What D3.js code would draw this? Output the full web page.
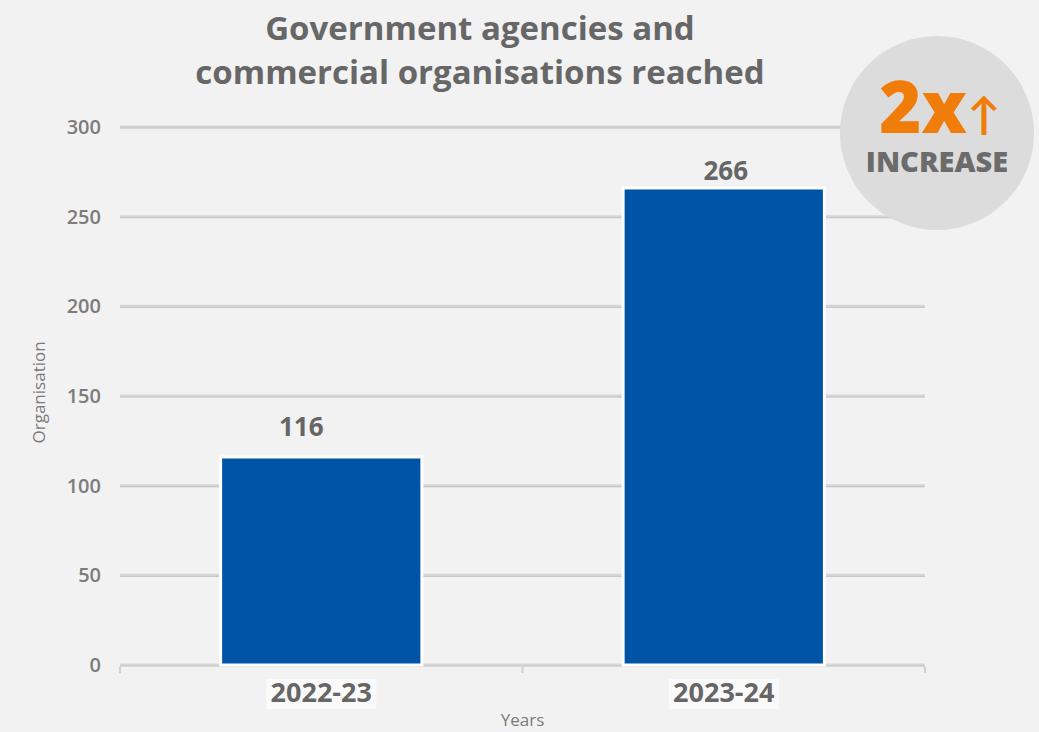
<!DOCTYPE html>
<html>
<head>
<meta charset="utf-8">
<script src="https://cdn.jsdelivr.net/npm/d3@7"></script>
<style>
  body { margin: 0; background: #f2f2f2; }
  svg { display: block; font-family: "Open Sans", Lato, sans-serif; }
</style>
</head>
<body>
<svg id="chart" width="1039" height="732"></svg>
<script>
const years = ["2022-23", "2023-24"];
const organisations = [116, 266];
const yTicks = [0, 50, 100, 150, 200, 250, 300];
const titleLines = ["Government agencies and", "commercial organisations reached"];

const svg = d3.select("#chart");
const margin = { top: 127, right: 114, bottom: 67, left: 120 };
const width = 1039 - margin.left - margin.right;
const height = 732 - margin.top - margin.bottom;

svg.append("rect").attr("width", 1039).attr("height", 732).attr("fill", "#f2f2f2");

const x = d3.scaleBand()
        .domain(years)
        .range([0, width])
        .paddingInner(0)
        .paddingOuter(0);

const y = d3.scaleLinear()
        .domain([0, 300])
        .range([height, 0]);

const g = svg.append("g")
        .attr("transform", "translate(" + margin.left + "," + margin.top + ")");

// gridlines (soft double line)
g.selectAll("line.grid")
        .data(yTicks)
        .enter().append("line")
        .attr("class", "grid")
        .attr("x1", 0)
        .attr("x2", width)
        .attr("y1", d => y(d))
        .attr("y2", d => y(d))
        .attr("stroke", "#d6d6d6")
        .attr("stroke-width", 3);

g.selectAll("line.grid2")
        .data(yTicks)
        .enter().append("line")
        .attr("x1", 0)
        .attr("x2", width)
        .attr("y1", d => y(d) + 1)
        .attr("y2", d => y(d) + 1)
        .attr("stroke", "#c6c6c6")
        .attr("stroke-width", 1);

// y tick labels
g.selectAll("text.ytick")
        .data(yTicks)
        .enter().append("text")
        .attr("x", -19)
        .attr("y", d => y(d))
        .attr("dy", "0.35em")
        .attr("text-anchor", "end")
        .attr("font-size", 20)
        .attr("font-weight", 600)
        .attr("fill", "#7c7c7c")
        .text(d => d);

// bottom axis ticks
const xAxis = g.append("g")
        .attr("transform", "translate(0," + (height + 2) + ")");
xAxis.selectAll("line")
        .data([0, width / 2, width])
        .enter().append("line")
        .attr("x1", d => d).attr("x2", d => d)
        .attr("y1", 0).attr("y2", 6)
        .attr("stroke", "#cfcfcf")
        .attr("stroke-width", 2);

// bars
const barW = x.bandwidth() * 0.5;
g.selectAll("rect.bar")
        .data(organisations)
        .enter().append("rect")
        .attr("class", "bar")
        .attr("x", (d, i) => x(years[i]) + x.bandwidth() / 2 - barW / 2)
        .attr("y", d => y(d))
        .attr("width", barW)
        .attr("height", d => height - y(d))
        .attr("fill", "#0054a6")
        .attr("stroke", "#ffffff")
        .attr("stroke-width", 3);

// value labels
g.selectAll("text.val")
        .data(organisations)
        .enter().append("text")
        .attr("x", (d, i) => x(years[i]) + x.bandwidth() / 2 + (i === 0 ? -20 : 2))
        .attr("y", (d, i) => y(d) - (i === 0 ? 21 : 8))
        .attr("text-anchor", "middle")
        .attr("font-size", 26)
        .attr("font-weight", 700)
        .attr("fill", "#666666")
        .text(d => d);

// x labels
const xl = g.selectAll("g.xl")
        .data(years)
        .enter().append("g")
        .attr("transform", d => "translate(" + (x(d) + x.bandwidth() / 2) + "," + (height + 37) + ")");
xl.append("rect")
        .attr("x", -55).attr("y", -23)
        .attr("width", 110).attr("height", 30)
        .attr("fill", "#ffffff")
        .attr("opacity", 0.6);
xl.append("text")
        .attr("text-anchor", "middle")
        .attr("font-size", 27)
        .attr("font-weight", 700)
        .attr("fill", "#666666")
        .text(d => d);

// axis titles
svg.append("text")
        .attr("x", margin.left + width / 2)
        .attr("y", 726)
        .attr("text-anchor", "middle")
        .attr("font-size", 17)
        .attr("fill", "#7a7a7a")
        .text("Years");

svg.append("text")
        .attr("transform", "translate(45," + (margin.top + y(152)) + ") rotate(-90)")
        .attr("text-anchor", "middle")
        .attr("font-size", 17)
        .attr("fill", "#7a7a7a")
        .text("Organisation");

// title
svg.selectAll("text.title")
        .data(titleLines)
        .enter().append("text")
        .attr("x", 480)
        .attr("y", (d, i) => 40 + i * 44)
        .attr("text-anchor", "middle")
        .attr("font-size", 33)
        .attr("font-weight", 700)
        .attr("fill", "#676767")
        .text(d => d);

// badge
const badge = svg.append("g").attr("transform", "translate(937,133)");
badge.append("circle").attr("r", 97).attr("fill", "#dcdcdc");
badge.append("text")
        .attr("x", -14).attr("y", 0)
        .attr("text-anchor", "middle")
        .attr("font-size", 72)
        .attr("font-weight", 800)
        .attr("fill", "#f07d0a")
        .text("2x");
badge.append("text")
        .attr("x", 47).attr("y", -3)
        .attr("text-anchor", "middle")
        .attr("font-size", 44)
        .attr("font-weight", 700)
        .attr("fill", "#f07d0a")
        .text("↑");
badge.append("text")
        .attr("x", 0).attr("y", 39)
        .attr("text-anchor", "middle")
        .attr("font-size", 29)
        .attr("font-weight", 800)
        .attr("fill", "#6b6b6b")
        .text("INCREASE");
</script>
</body>
</html>
